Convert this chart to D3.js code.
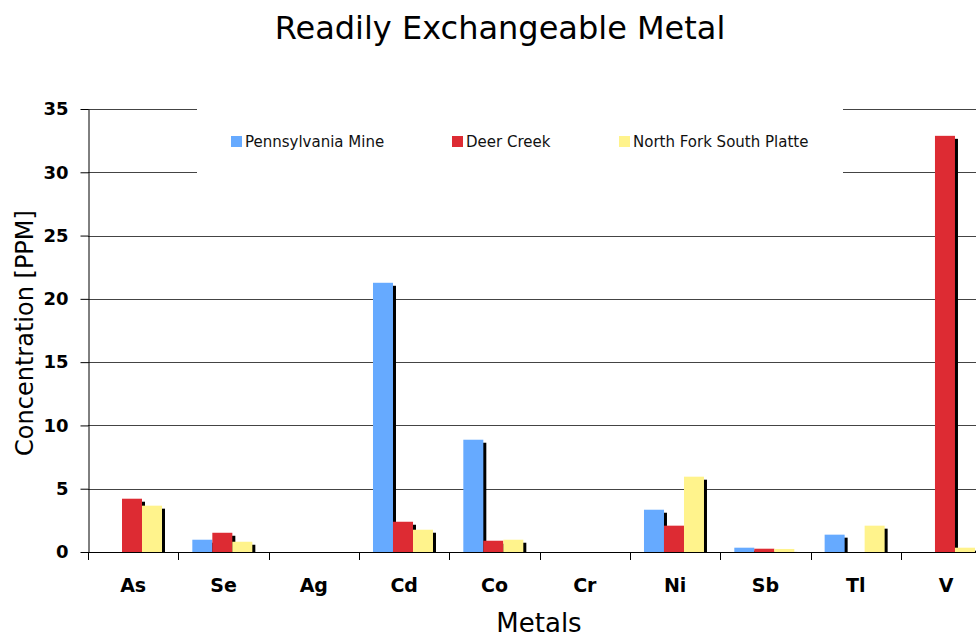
<!DOCTYPE html>
<html>
<head>
<meta charset="utf-8">
<script src="https://cdn.jsdelivr.net/npm/d3@7"></script>
<style>
  html, body { margin: 0; padding: 0; background: #fff; overflow: hidden; }
  svg { display: block; }
</style>
</head>
<body>
<svg id="chart" width="976" height="637"></svg>
<script>
// Metals sampled and their readily exchangeable concentrations (PPM)
const metals = ["As", "Se", "Ag", "Cd", "Co", "Cr", "Ni", "Sb", "Tl", "V"];
const seriesNames = ["Pennsylvania Mine", "Deer Creek", "North Fork South Platte"];
const pennsylvaniaMine = [0, 0.97, 0, 21.27, 8.87, 0, 3.34, 0.34, 1.37, 0];
const deerCreek        = [4.21, 1.52, 0, 2.39, 0.89, 0, 2.08, 0.26, 0, 32.88];
const northForkSouthPlatte = [3.66, 0.81, 0, 1.76, 0.97, 0, 5.95, 0.24, 2.08, 0.34];
const yTicks = [0, 5, 10, 15, 20, 25, 30, 35];
const colors = ["#66aaff", "#dd2b33", "#fff38c"];

const seriesValues = [pennsylvaniaMine, deerCreek, northForkSouthPlatte];
const rows = metals.map((m, i) => ({ metal: m, values: seriesValues.map(s => s[i]) }));

const svg = d3.select("#chart");
const font = "'DejaVu Sans', Verdana, sans-serif";

const x0 = d3.scaleBand().domain(metals).range([88, 991.3]).padding(0);
const x1 = d3.scaleBand().domain(d3.range(seriesNames.length)).range([14, 74]).padding(0);
const y = d3.scaleLinear().domain([0, 35]).range([552, 109]);

// Title
svg.append("text")
  .attr("x", 500).attr("y", 39)
  .attr("text-anchor", "middle")
  .style("font-family", font).style("font-size", "32px").attr("fill", "#000")
  .text("Readily Exchangeable Metal");

// Horizontal gridlines
svg.append("g").selectAll("line")
  .data(yTicks.filter(t => t > 0))
  .join("line")
  .attr("x1", 88).attr("x2", 991)
  .attr("y1", d => Math.round(y(d)) + 0.5).attr("y2", d => Math.round(y(d)) + 0.5)
  .attr("stroke", "#444").attr("stroke-width", 1);

// Legend background (sits over the gridlines)
svg.append("rect")
  .attr("x", 197).attr("y", 100).attr("width", 646).attr("height", 84)
  .attr("fill", "#fff");

// Legend entries
const legendX = [231, 452, 619];
const legend = svg.append("g").selectAll("g")
  .data(seriesNames)
  .join("g")
  .attr("transform", (d, i) => `translate(${legendX[i]},136)`);
legend.append("rect")
  .attr("x", 0).attr("y", 0).attr("width", 11).attr("height", 11)
  .attr("fill", (d, i) => colors[i]);
legend.append("text")
  .attr("x", 14).attr("y", 11)
  .style("font-family", font).style("font-size", "15px").attr("fill", "#111")
  .text(d => d);

// Bars with drop shadows
const groups = svg.append("g").selectAll("g")
  .data(rows)
  .join("g")
  .attr("transform", d => `translate(${x0(d.metal)},0)`);

const barData = d => d.values.map((v, i) => ({ i, v })).filter(b => b.v > 0);

groups.selectAll("rect.shadow")
  .data(barData)
  .join("rect")
  .attr("class", "shadow")
  .attr("x", b => x1(b.i) + 3)
  .attr("y", b => y(b.v) + 3)
  .attr("width", x1.bandwidth())
  .attr("height", b => y(0) - y(b.v) - 3)
  .attr("fill", "#000");

groups.selectAll("rect.bar")
  .data(barData)
  .join("rect")
  .attr("class", "bar")
  .attr("x", b => x1(b.i))
  .attr("y", b => y(b.v))
  .attr("width", x1.bandwidth())
  .attr("height", b => y(0) - y(b.v))
  .attr("fill", b => colors[b.i]);

// Y axis
const yAxis = svg.append("g")
  .attr("transform", "translate(88.5,0)")
  .call(d3.axisLeft(y).tickValues(yTicks).tickSize(8).tickPadding(12).tickSizeOuter(0));
yAxis.select(".domain").attr("stroke", "#000");
yAxis.selectAll(".tick line").attr("stroke", "#000");
yAxis.selectAll(".tick text")
  .style("font-family", font).style("font-size", "18px").style("font-weight", "bold")
  .attr("fill", "#000");

// X axis
const xAxisG = svg.append("g");
xAxisG.append("line")
  .attr("x1", 88).attr("x2", 991)
  .attr("y1", 552.5).attr("y2", 552.5)
  .attr("stroke", "#000");
xAxisG.selectAll("line.tick")
  .data(metals)
  .join("line")
  .attr("class", "tick")
  .attr("x1", d => Math.round(x0(d)) + 0.5).attr("x2", d => Math.round(x0(d)) + 0.5)
  .attr("y1", 552).attr("y2", 560)
  .attr("stroke", "#000");
xAxisG.selectAll("text")
  .data(metals)
  .join("text")
  .attr("x", d => x0(d) + x0.bandwidth() / 2)
  .attr("y", 592)
  .attr("text-anchor", "middle")
  .style("font-family", font).style("font-size", "19px").style("font-weight", "bold")
  .attr("fill", "#000")
  .text(d => d);

// Axis titles
svg.append("text")
  .attr("x", 539).attr("y", 632)
  .attr("text-anchor", "middle")
  .style("font-family", font).style("font-size", "26px").attr("fill", "#000")
  .text("Metals");

svg.append("text")
  .attr("transform", "translate(33,333) rotate(-90)")
  .attr("text-anchor", "middle")
  .style("font-family", font).style("font-size", "24px").attr("fill", "#000")
  .text("Concentration [PPM]");
</script>
</body>
</html>
